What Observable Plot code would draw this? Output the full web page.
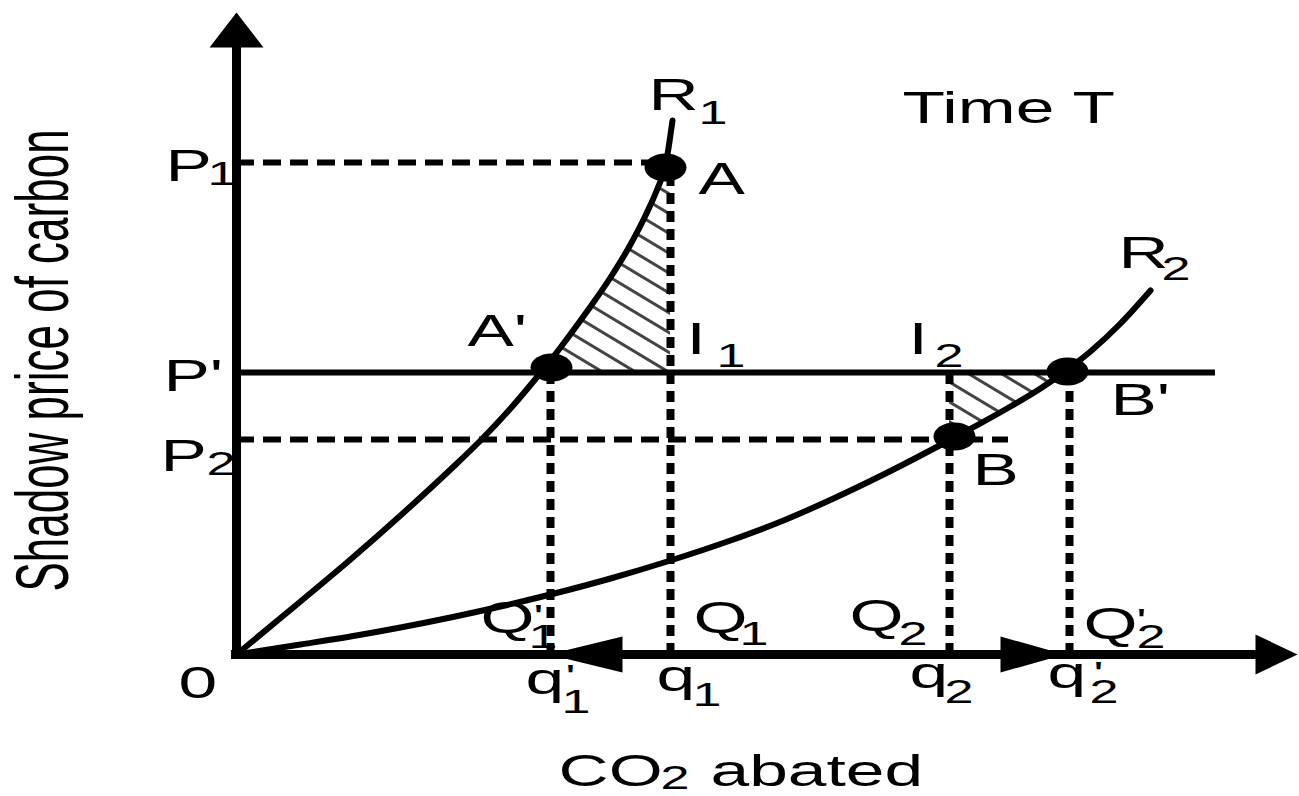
<!DOCTYPE html>
<html><head><meta charset="utf-8">
<script src="https://cdn.jsdelivr.net/npm/d3@7"></script>
<script src="https://cdn.jsdelivr.net/npm/@observablehq/plot@0.6"></script>
<style>html,body{margin:0;padding:0;background:#fff;} svg{display:block}</style>
</head><body><div id="chart"></div>
<script>
// Curve R1 (time T, steep) and R2 (flatter)
const r1X = [0, 0.64, 1.14, 1.64, 2.14, 2.45, 2.74, 3.01, 3.24, 3.49, 3.74, 3.94, 4.09, 4.21, 4.29, 4.36];
const r1Y = [0, 0.53, 0.95, 1.39, 1.85, 2.15, 2.46, 2.78, 3.07, 3.41, 3.77, 4.10, 4.39, 4.66, 4.89, 5.34];
const r2X = [0, 0.64, 1.14, 1.64, 2.14, 2.64, 3.14, 3.74, 4.34, 4.94, 5.47, 5.97, 6.47, 7.18, 7.74, 8.04, 8.31, 8.54, 8.84, 9.14];
const r2Y = [0, 0.10, 0.18, 0.27, 0.37, 0.48, 0.60, 0.76, 0.94, 1.14, 1.34, 1.56, 1.80, 2.17, 2.48, 2.66, 2.85, 3.03, 3.31, 3.64];
// price levels
const priceNames = ["P1", "p'", "P2"];
const priceValues = [4.92, 2.82, 2.15];
const priceLineEnds = [4.29, 9.79, 7.72];
// quantities
const qtyNames = ["q'1", "q1", "q2", "q'2"];
const qtyValues = [3.14, 4.34, 7.13, 8.33];
const qtyTops = [2.87, 4.87, 2.82, 2.83];
// marked points
const pointNames = ["A", "A'", "B", "B'"];
const pointX = [4.29, 3.15, 7.18, 8.31];
const pointY = [4.87, 2.87, 2.18, 2.83];

const r1 = r1X.map((x, i) => ({x, y: r1Y[i]}));
const r2 = r2X.map((x, i) => ({x, y: r2Y[i]}));
const [P1, pP, P2] = priceValues;
const [q1p, q1, q2, q2p] = qtyValues;
const pts = pointNames.map((n, i) => ({n, x: pointX[i], y: pointY[i]}));
const [A, Ap, B, Bp] = pts;
const prices = priceNames.map((n, i) => ({n, y: priceValues[i], end: priceLineEnds[i]}));
const qtys = qtyNames.map((n, i) => ({n, x: qtyValues[i], top: qtyTops[i]}));

const hatch1 = [{x: 3.01, y: pP}, ...r1.filter(d => d.y > pP && d.y <= P1)];
const hatch2 = [{x: q2, y: P2}, ...r2.filter(d => d.x > q2 && d.x <= Bp.x)];

const K = 0.5523;
const ellipse = {draw(c) { const rx = 21, ry = 14;
  c.moveTo(rx, 0);
  c.bezierCurveTo(rx, K*ry, K*rx, ry, 0, ry);
  c.bezierCurveTo(-K*rx, ry, -rx, K*ry, -rx, 0);
  c.bezierCurveTo(-rx, -K*ry, -K*rx, -ry, 0, -ry);
  c.bezierCurveTo(K*rx, -ry, rx, -K*ry, rx, 0);
  c.closePath(); }};
const tri = (dx, dy, L, H) => ({draw(c) {
  c.moveTo(0, 0);
  if (dx) { c.lineTo(-dx*L, -H); c.lineTo(-dx*L, H); }
  else { c.lineTo(-H, -dy*L); c.lineTo(H, -dy*L); }
  c.closePath(); }});

const F = "Liberation Sans, Arial, sans-serif";
const mainLabels = [
  {t: "P", x: -0.71, y: 4.74}, {t: "R", x: 4.12, y: 5.45}, {t: "Time T", x: 6.66, y: 5.32},
  {t: "A", x: 4.62, y: 4.61}, {t: "A'", x: 2.31, y: 3.09}, {t: "I", x: 4.50, y: 3.01},
  {t: "I", x: 6.72, y: 3.01}, {t: "R", x: 8.82, y: 3.87}, {t: "P'", x: -0.73, y: 2.64},
  {t: "B'", x: 8.74, y: 2.40}, {t: "P", x: -0.76, y: 1.84}, {t: "B", x: 7.36, y: 1.70},
  {t: "Q", x: 2.44, y: 0.22}, {t: "Q", x: 4.57, y: 0.22}, {t: "Q", x: 6.13, y: 0.24},
  {t: "Q", x: 8.47, y: 0.16}, {t: "0", x: -0.58, y: -0.43},
  {t: "q", x: 2.89, y: -0.39}, {t: "q", x: 4.20, y: -0.36}, {t: "q", x: 6.73, y: -0.33},
  {t: "q", x: 8.11, y: -0.33},
  {t: "CO", x: 3.22, y: -1.31}, {t: "abated", x: 4.74, y: -1.31}
];
const subLabels = [
  {t: "1", x: -0.29, y: 4.70}, {t: "1", x: 4.62, y: 5.31}, {t: "1", x: 4.80, y: 2.88},
  {t: "2", x: 6.98, y: 2.88}, {t: "2", x: 9.25, y: 3.75}, {t: "2", x: -0.30, y: 1.80},
  {t: "'", x: 2.97, y: 0.27}, {t: "1", x: 2.92, y: 0.07}, {t: "1", x: 5.03, y: 0.10},
  {t: "2", x: 6.62, y: 0.10}, {t: "'", x: 9.00, y: 0.23}, {t: "2", x: 9.00, y: 0.07},
  {t: "'", x: 3.29, y: -0.33}, {t: "1", x: 3.25, y: -0.58}, {t: "1", x: 4.56, y: -0.51},
  {t: "2", x: 7.08, y: -0.48}, {t: "'", x: 8.57, y: -0.30}, {t: "2", x: 8.53, y: -0.48},
  {t: "2", x: 4.24, y: -1.34}
];

const svg = Plot.plot({
  width: 1299, height: 796,
  marginLeft: 236, marginRight: 0, marginTop: 0, marginBottom: 142,
  x: {domain: [0, 10.63], axis: null},
  y: {domain: [0, 6.54], axis: null},
  style: {background: "#fff", overflow: "visible"},
  marks: [
    Plot.areaX(hatch1, {y: "y", x1: "x", x2: () => q1, fill: "url(#hatch)", curve: "monotone-y"}),
    Plot.areaY(hatch2, {x: "x", y1: "y", y2: () => pP, fill: "url(#hatch)", curve: "monotone-x"}),
    Plot.ruleY(prices.filter(d => d.n !== "p'"), {y: "y", x1: 0, x2: "end", stroke: "#000", strokeWidth: 6, strokeDasharray: "18,9"}),
    Plot.ruleY(prices.filter(d => d.n === "p'"), {y: "y", x1: 0, x2: "end", stroke: "#000", strokeWidth: 6}),
    Plot.ruleX(qtys, {x: "x", y1: 0, y2: "top", stroke: "#000", strokeWidth: 8, strokeDasharray: "11,7"}),
    Plot.line(r1, {x: "x", y: "y", stroke: "#000", strokeWidth: 6, curve: "monotone-x"}),
    Plot.line(r2, {x: "x", y: "y", stroke: "#000", strokeWidth: 6, curve: "monotone-x"}),
    Plot.ruleX([0], {y1: -0.03, y2: 6.1, stroke: "#000", strokeWidth: 9}),
    Plot.ruleY([0], {x1: -0.05, x2: 10.3, stroke: "#000", strokeWidth: 9}),
    Plot.dot(pts, {x: "x", y: "y", symbol: ellipse, r: 14, fill: "#000", stroke: "none"}),
    Plot.dot([{x: 0, y: 6.42}], {x: "x", y: "y", symbol: tri(0, -1, 35, 27), fill: "#000", stroke: "none"}),
    Plot.dot([{x: 10.61, y: 0}], {x: "x", y: "y", symbol: tri(1, 0, 42, 20), fill: "#000", stroke: "none"}),
    Plot.dot([{x: q1p - 0.02, y: 0}], {x: "x", y: "y", symbol: tri(-1, 0, 74, 18), fill: "#000", stroke: "none"}),
    Plot.dot([{x: q2p - 0.05, y: 0}], {x: "x", y: "y", symbol: tri(1, 0, 64, 18), fill: "#000", stroke: "none"}),
    Plot.text(mainLabels, {x: "x", y: "y", text: "t", fontSize: 44, fontFamily: F, textAnchor: "start", lineAnchor: "bottom", fill: "#000"}),
    Plot.text(subLabels, {x: "x", y: "y", text: "t", fontSize: 33, fontFamily: F, textAnchor: "start", lineAnchor: "bottom", fill: "#000"}),
    Plot.text(["Shadow price of carbon"], {x: -1.69, y: 2.94, text: d => d, rotate: -90, fontSize: 44, fontFamily: F, textAnchor: "middle", lineAnchor: "bottom", fill: "#000"})
  ]
});

const s = d3.select(svg);
const defs = s.insert("defs", ":first-child");
const pat = defs.append("pattern").attr("id", "hatch").attr("patternUnits", "userSpaceOnUse")
  .attr("width", 17).attr("height", 17).attr("patternTransform", "rotate(31)");
pat.append("line").attr("x1", -1).attr("y1", 8.5).attr("x2", 18).attr("y2", 8.5)
  .attr("stroke", "#444").attr("stroke-width", 3);
s.selectAll("text").each(function() {
  const t = this.getAttribute("transform") || "";
  const sc = t.includes("rotate") ? " scale(1,1.7)" : " scale(1.58,1)";
  this.setAttribute("transform", t + sc);
});
document.getElementById("chart").appendChild(svg);
</script>
</body></html>
